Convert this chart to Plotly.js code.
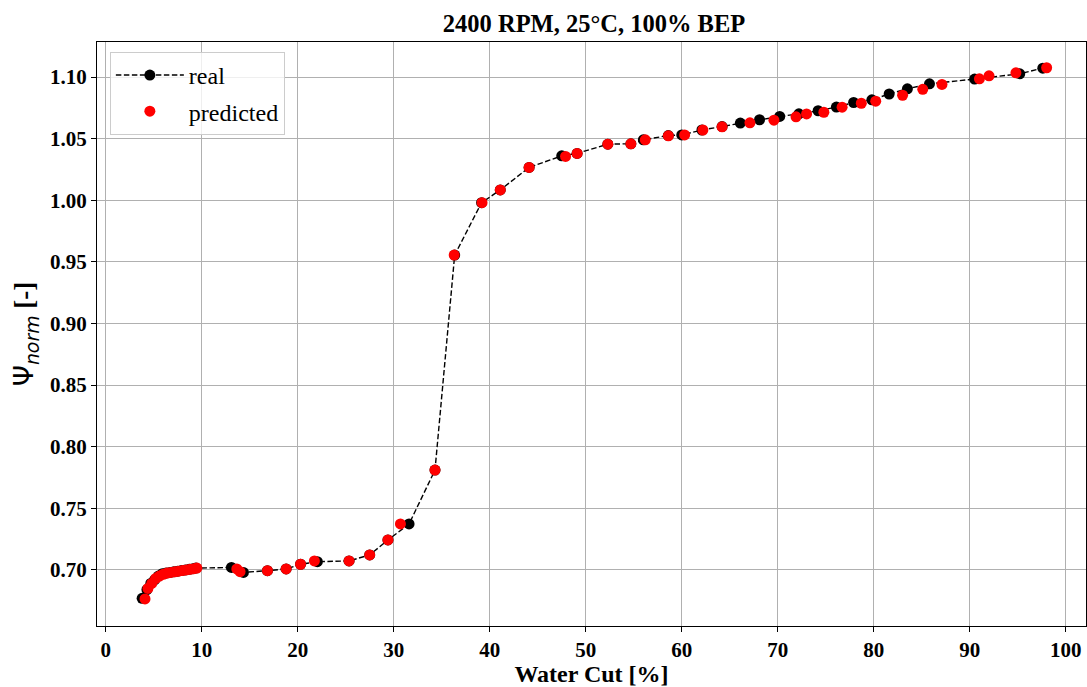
<!DOCTYPE html>
<html>
<head>
<meta charset="utf-8">
<script src="https://cdn.plot.ly/plotly-3.0.1.min.js"></script>
<style>html,body{margin:0;padding:0;background:#fff;}#chart{width:1087px;height:687px;}</style>
</head>
<body>
<div id="chart"></div>
<script>
const realX = [3.8, 4.3, 4.7, 5.1, 5.5, 5.9, 6.3, 6.7, 7.1, 7.5, 7.9, 8.3, 8.7, 9.1, 9.4,
  13.1, 14.35, 16.85, 18.8, 20.3, 22.05, 25.35, 27.5, 29.4, 31.6, 34.3, 36.35, 39.15, 41.1, 44.1,
  47.5, 49.1, 52.3, 54.7, 56.0, 58.6, 60.0, 62.1, 64.2, 66.1, 68.1, 70.2, 72.2, 74.2, 76.1,
  77.9, 79.8, 81.6, 83.5, 85.8, 90.5, 95.2, 97.6];
const realY = [0.677, 0.684, 0.689, 0.692, 0.695, 0.697, 0.6975, 0.698, 0.6985, 0.699, 0.6995, 0.700, 0.7005, 0.701, 0.7015,
  0.702, 0.698, 0.6994, 0.7008, 0.7046, 0.7067, 0.7073, 0.7122, 0.7243, 0.7373, 0.781, 0.9555, 0.998, 1.0084, 1.0266,
  1.036, 1.038, 1.0455, 1.0458, 1.049, 1.0525, 1.053, 1.057, 1.0598, 1.0626, 1.0653, 1.068, 1.0701, 1.0726, 1.0756,
  1.0793, 1.0815, 1.0862, 1.0904, 1.0945, 1.0983, 1.1026, 1.1072];
const predX = [4.1, 4.4, 4.8, 5.2, 5.6, 6.0, 6.4, 6.8, 7.2, 7.6, 8.0, 8.4, 8.8, 9.2, 9.5,
  13.66, 14.0, 16.85, 18.8, 20.3, 21.74, 25.35, 27.5, 29.4, 30.7, 34.3, 36.3, 39.2, 41.1, 44.1,
  47.9, 49.1, 52.3, 54.7, 56.2, 58.6, 60.3, 62.2, 64.2, 67.1, 69.6, 71.9, 73.0, 74.8, 76.7,
  78.7, 80.2, 83.0, 85.1, 87.1, 91.0, 92.0, 94.8, 98.0];
const predY = [0.6765, 0.685, 0.689, 0.693, 0.695, 0.6965, 0.6975, 0.698, 0.6985, 0.699, 0.6995, 0.700, 0.7005, 0.701, 0.7015,
  0.7008, 0.6986, 0.6994, 0.7008, 0.7046, 0.7073, 0.7073, 0.7122, 0.7243, 0.7373, 0.781, 0.9555, 0.998, 1.0084, 1.0266,
  1.0355, 1.038, 1.0455, 1.0458, 1.049, 1.0523, 1.053, 1.057, 1.0596, 1.0628, 1.065, 1.0677, 1.070, 1.0714, 1.0755,
  1.0787, 1.0804, 1.0852, 1.090, 1.094, 1.0985, 1.101, 1.1034, 1.1075];
const yTicks = [0.70, 0.75, 0.80, 0.85, 0.90, 0.95, 1.00, 1.05, 1.10];
const xTicks = [0, 10, 20, 30, 40, 50, 60, 70, 80, 90, 100];

const serif = "Liberation Serif, Times New Roman, serif";
const traces = [
  {x: realX, y: realY, name: 'real', type: 'scatter', mode: 'lines+markers', legendgroup: 'a',
   line: {color: '#000', width: 1.4, dash: '5.5px,2.5px'},
   marker: {color: '#000', size: 11}},
  {x: predX, y: predY, name: 'predicted', type: 'scatter', mode: 'markers', legendgroup: 'b',
   marker: {color: '#ff0000', size: 11}}
];
const axisCommon = {
  showline: true, mirror: true, linecolor: '#000', linewidth: 1,
  ticks: 'outside', ticklen: 5, tickwidth: 1, tickcolor: '#000',
  showgrid: true, gridcolor: '#b0b0b0', gridwidth: 1, zeroline: false,
  tickfont: {family: serif, size: 21, color: '#000', weight: 'bold'}
};
const layout = {
  width: 1087, height: 687,
  margin: {l: 97, r: 1, t: 42, b: 61},
  paper_bgcolor: '#fff', plot_bgcolor: '#fff',
  title: {text: '2400 RPM, 25°C, 100% BEP', font: {family: serif, size: 24.5, color: '#000', weight: 'bold'},
          x: 0.5465, xanchor: 'center', y: 0.966, yref: 'container', yanchor: 'middle'},
  xaxis: Object.assign({}, axisCommon, {
    range: [-0.9, 102.1], tickvals: xTicks, ticktext: xTicks.map(String),
    title: {text: 'Water Cut [%]', font: {family: serif, size: 24, color: '#000', weight: 'bold'}, standoff: 6}
  }),
  yaxis: Object.assign({}, axisCommon, {
    range: [0.6545, 1.1284], tickvals: yTicks, ticktext: yTicks.map(v => v.toFixed(2)),
    title: {text: '<span style="font-family:DejaVu Sans;font-weight:normal">Ψ<sub><i>norm</i></sub></span> [-]',
            font: {family: serif, size: 27, color: '#000', weight: 'bold'}, standoff: 8}
  }),
  legend: {x: 0.013, y: 0.983, xanchor: 'left', yanchor: 'top', traceorder: 'grouped',
           bgcolor: 'rgba(255,255,255,0.8)', bordercolor: '#cccccc', borderwidth: 1,
           font: {family: serif, size: 24, color: '#000'}, itemwidth: 68, tracegroupgap: 2},
  showlegend: true
};
Plotly.newPlot('chart', traces, layout, {displayModeBar: false, staticPlot: true});
</script>
</body>
</html>
